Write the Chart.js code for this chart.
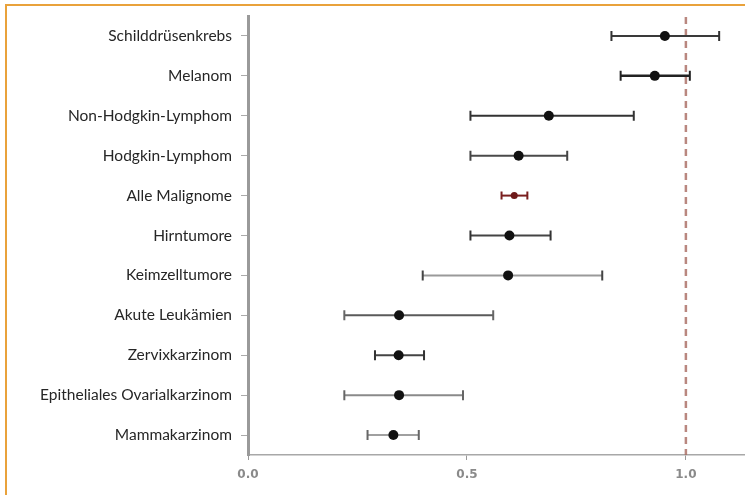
<!DOCTYPE html>
<html>
<head>
<meta charset="utf-8">
<script src="https://cdn.jsdelivr.net/npm/chart.js@4"></script>
<style>
    html, body { margin: 0; padding: 0; background: #fff; overflow: hidden; }
    #wrap { position: relative; width: 745px; height: 495px; }
    #frame {
        position: absolute; left: 5px; top: 4px; width: 760px; height: 510px;
        border-top: 2px solid #e9a23b; border-left: 2px solid #e9a23b;
        pointer-events: none;
    }
</style>
</head>
<body>
<div id="wrap">
    <canvas id="forest" width="745" height="495"></canvas>
    <div id="frame"></div>
</div>
<script>
// categories, top to bottom
const categories = [
    'Schilddrüsenkrebs', 'Melanom', 'Non-Hodgkin-Lymphom', 'Hodgkin-Lymphom',
    'Alle Malignome', 'Hirntumore', 'Keimzelltumore', 'Akute Leukämien',
    'Zervixkarzinom', 'Epitheliales Ovarialkarzinom', 'Mammakarzinom'
];
// point estimate and confidence interval
const estimate = [0.952, 0.929, 0.687, 0.618, 0.608, 0.597, 0.594, 0.345, 0.344, 0.345, 0.332];
const lower    = [0.830, 0.851, 0.508, 0.508, 0.579, 0.508, 0.399, 0.220, 0.290, 0.220, 0.273];
const upper    = [1.076, 1.009, 0.881, 0.729, 0.638, 0.691, 0.809, 0.560, 0.402, 0.491, 0.390];
const tickValues = [0.0, 0.5, 1.0];
const referenceLine = 1.0;

// line colour per row (Alle Malignome highlighted)
const barColors = ['#3a3a3a', '#222', '#333', '#4a4a4a', '#7a1f1f', '#444',
                   '#9a9a9a', '#5a5a5a', '#444', '#8a8a8a', '#a0a0a0'];
const capColors = ['#333', '#222', '#333', '#444', '#7a1f1f', '#333',
                   '#444', '#666', '#333', '#666', '#666'];

const errorBars = {
    id: 'errorBars',
    beforeDatasetsDraw(chart) {
        const ctx = chart.ctx;
        const xs = chart.scales.x;
        const ys = chart.scales.y;
        const area = chart.chartArea;

        // dashed reference line at 1.0
        const rx = xs.getPixelForValue(referenceLine);
        ctx.save();
        ctx.strokeStyle = 'rgba(168, 105, 95, 0.8)';
        ctx.lineWidth = 2.5;
        ctx.setLineDash([7, 5]);
        ctx.beginPath();
        ctx.moveTo(rx, area.top + 1);
        ctx.lineTo(rx, area.bottom);
        ctx.stroke();
        ctx.restore();

        categories.forEach((cat, i) => {
            const y = ys.getPixelForValue(i);
            const x1 = xs.getPixelForValue(lower[i]);
            const x2 = xs.getPixelForValue(upper[i]);
            ctx.save();
            ctx.strokeStyle = barColors[i];
            ctx.lineWidth = i === 1 ? 2.5 : 2;
            ctx.beginPath();
            ctx.moveTo(x1, y);
            ctx.lineTo(x2, y);
            ctx.stroke();
            ctx.strokeStyle = capColors[i];
            ctx.lineWidth = 2;
            const h = i === 4 ? 4 : 5;
            ctx.beginPath();
            ctx.moveTo(x1, y - h); ctx.lineTo(x1, y + h);
            ctx.moveTo(x2, y - h); ctx.lineTo(x2, y + h);
            ctx.stroke();
            ctx.restore();
        });
    }
};

new Chart(document.getElementById('forest').getContext('2d'), {
    type: 'scatter',
    data: {
        datasets: [{
            data: categories.map((c, i) => ({ x: estimate[i], y: i })),
            pointRadius: categories.map((c, i) => i === 4 ? 3.5 : 5),
            pointBackgroundColor: categories.map((c, i) => i === 4 ? '#6e1a1a' : '#111'),
            pointBorderWidth: 0
        }]
    },
    options: {
        responsive: false,
        animation: false,
        layout: { autoPadding: false, padding: { top: 16, right: 0, bottom: 0, left: 0 } },
        plugins: { legend: { display: false }, tooltip: { enabled: false } },
        scales: {
            x: {
                type: 'linear',
                min: 0,
                max: 1.135,
                afterBuildTicks: scale => { scale.ticks = tickValues.map(v => ({ value: v })); },
                afterFit: scale => {
                    scale.height = 40;
                    scale.paddingLeft = 0;
                    scale.paddingRight = 0;
                },
                border: { color: '#a8a8a8', width: 1.5, dash: [6, 4] },
                grid: { drawOnChartArea: false, drawTicks: true, tickLength: 5, color: '#999', lineWidth: 1 },
                ticks: {
                    padding: 8,
                    color: '#8a8a8a',
                    font: { family: 'DejaVu Sans', size: 12, weight: 'bold' },
                    callback: v => Number(v).toFixed(1)
                }
            },
            y: {
                type: 'linear',
                min: -0.5,
                max: categories.length - 0.5,
                reverse: true,
                afterBuildTicks: scale => { scale.ticks = categories.map((c, i) => ({ value: i })); },
                afterFit: scale => {
                    scale.width = 248;
                    scale.paddingTop = 0;
                    scale.paddingBottom = 0;
                },
                border: { color: '#9a9a9a', width: 3 },
                grid: { drawOnChartArea: false, drawTicks: true, tickLength: 7, color: '#aaa', lineWidth: 1 },
                ticks: {
                    padding: 9,
                    color: '#262626',
                    font: { family: 'Lato', size: 15.5 },
                    callback: v => categories[v]
                }
            }
        }
    },
    plugins: [errorBars]
});
</script>
</body>
</html>
